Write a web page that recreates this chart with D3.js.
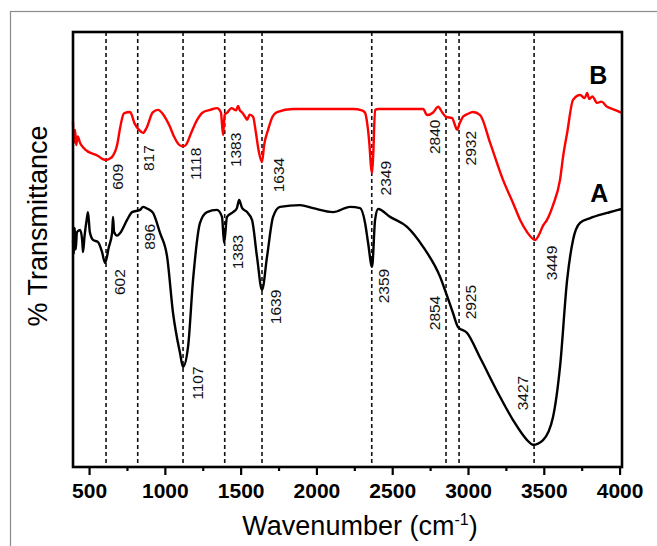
<!DOCTYPE html>
<html>
<head>
<meta charset="utf-8">
<script src="https://cdn.jsdelivr.net/npm/d3@7"></script>
<style>
  body { margin: 0; background: #fff; }
  text { font-family: "Liberation Sans", Arial, sans-serif; }
</style>
</head>
<body>
<svg id="ftir" width="657" height="546"></svg>
<script>

// ---- data (wavenumber cm-1, % transmittance, arbitrary offset) ----

var b_wave = [394, 400, 408, 415, 425, 441, 460, 493, 526, 559, 590, 612, 640, 652, 685, 705, 730, 771,
  800, 830, 856, 880, 920, 955, 990, 1030, 1060, 1090, 1110, 1130, 1147, 1170, 1213, 1250, 1300, 1344,
  1370, 1384, 1395, 1410, 1440, 1470, 1483, 1495, 1510, 1530, 1542, 1560, 1582, 1600, 1620, 1641, 1655,
  1681, 1710, 1740, 1846, 2000, 2150, 2242, 2300, 2320, 2335, 2350, 2360, 2367, 2375, 2387, 2410, 2600,
  2704, 2730, 2770, 2803, 2830, 2855, 2895, 2915, 2928, 2945, 2967, 3000, 3033, 3080, 3146, 3231, 3297,
  3344, 3390, 3443, 3470, 3495, 3521, 3561, 3607, 3630, 3654, 3693, 3740, 3770, 3786, 3800, 3820, 3852,
  3880, 3918, 3960, 4003, 4016];
var b_trans = [79.5, 74.5, 77.5, 74, 76, 74.5, 73.5, 72.5, 72, 71.5, 70.8, 70.6, 71, 71.3, 74, 78, 81.3, 81.6,
  79, 77.5, 76.8, 78, 81.5, 82.1, 81, 78.5, 76, 74.2, 73.8, 73.8, 74.5, 76.5, 79.8, 81.5, 82.1, 82.5,
  81.5, 76.3, 81, 81.4, 82.5, 82, 83, 82, 81.5, 80.5, 79.8, 81, 80.5, 77, 72.5, 70.1, 74,
  77.5, 80.5, 81.6, 82.3, 82.3, 82.3, 82.3, 82, 81.5, 79, 74, 69, 67.6, 72, 82.1, 82.3, 82.3,
  82.3, 80.9, 81.5, 82.8, 81.5, 80.5, 80.2, 78.5, 77.5, 79, 80.5, 81.2, 81.6, 80.9, 74.5, 66, 60.7,
  56.8, 54, 52.2, 53.5, 55.5, 56.8, 60.2, 66, 72, 76.8, 84.4, 85.5, 84.8, 86, 84.6, 85.2, 83.7,
  84, 82.8, 82.2, 81.6, 81.4];

var a_wave = [394, 400, 405, 412, 420, 441, 455, 460, 470, 485, 493, 505, 526, 559, 585, 606, 630, 652,
  658, 665, 685, 705, 751, 784, 836, 856, 889, 922, 968, 1015, 1054, 1100, 1120, 1153, 1186, 1232,
  1278, 1344, 1377, 1391, 1410, 1450, 1475, 1490, 1510, 1542, 1575, 1608, 1641, 1674, 1714, 1760, 1892,
  1978, 2110, 2222, 2288, 2321, 2341, 2367, 2387, 2407, 2486, 2598, 2704, 2816, 2855, 2901, 2934, 2994,
  3080, 3212, 3297, 3390, 3429, 3495, 3561, 3607, 3654, 3693, 3739, 3806, 3918, 3990, 4016];
var a_trans = [52, 49, 55, 50, 54, 54.5, 52, 49.4, 53, 57, 58.6, 54, 52.2, 51.7, 49.5, 46.9, 50.5, 53.8,
  57.5, 54, 53.2, 53.8, 56.8, 58.6, 59.1, 59.8, 59.3, 58.4, 53.8, 48.3, 35.4, 26.2, 23, 27.6, 43, 56.1,
  58.6, 59.1, 57.5, 51.5, 57.5, 58.6, 59.5, 61.4, 59.5, 58.6, 56.8, 48.3, 40.7, 48.3, 57.5, 59.8, 60.2,
  59.5, 58.6, 59.8, 59.5, 56.1, 51.5, 46, 56.8, 59.3, 57.5, 55.2, 50.6, 43.7, 40, 35.4, 32.2, 30.8,
  25.1, 16.1, 10.8, 6.2, 5.1, 6.2, 11.5, 23, 43, 52.2, 56.1, 57.2, 58.4, 59.1, 59.3];

// dashed marker lines
var peak_lines = [612, 821, 1120, 1395, 1641, 2365, 2855, 2941, 3436];

// peak labels (text, label centre in wavenumber / transmittance units)
var b_labels = ["609", "817", "1118", "1383", "1634", "2349", "2840", "2932", "3449"];
var b_label_w = [685, 889, 1199, 1463, 1747, 2453, 2776, 3014, 3548];
var b_label_v = [66.7, 71.0, 69.7, 72.9, 67.1, 66.4, 75.9, 73.3, 46.9];

var a_labels = ["602", "896", "1107", "1383", "1639", "2359", "2854", "2925", "3427"];
var a_label_w = [698, 896, 1213, 1476, 1727, 2440, 2776, 3014, 3357];
var a_label_v = [42.5, 52.9, 19.3, 49.4, 36.8, 41.6, 35.4, 37.9, 17.0];

var x_ticks = [500, 1000, 1500, 2000, 2500, 3000, 3500, 4000];
var x_minor = [750, 1250, 1750, 2250, 2750, 3250, 3750];


// define margins
var margin = {top: 32, right: 35, bottom: 79, left: 73};
var width = 657 - margin.left - margin.right;
var height = 546 - margin.top - margin.bottom;

var svg = d3.select("#ftir");

// thin grey border of the figure panel
svg.append("rect")
  .attr("x", 10.5).attr("y", 11.5)
  .attr("width", 700).attr("height", 600)
  .attr("fill", "none")
  .attr("stroke", "#8c8c8c")
  .attr("stroke-width", 1.2);

var g = svg.append("g")
  .attr("transform", "translate(" + margin.left + "," + margin.top + ")");

var x = d3.scaleLinear().domain([394, 4016]).range([0, width]);
var y = d3.scaleLinear().domain([0, 100]).range([height, 0]);

// dashed lines first so curves sit on top
g.selectAll(".peak")
  .data(peak_lines)
  .enter().append("line")
  .attr("class", "peak")
  .attr("x1", function(d) { return x(d); })
  .attr("x2", function(d) { return x(d); })
  .attr("y1", 0).attr("y2", height)
  .attr("stroke", "#111")
  .attr("stroke-width", 1.6)
  .attr("stroke-dasharray", "4,3");

var valueline = d3.line()
  .x(function(d) { return x(d[0]); })
  .y(function(d) { return y(d[1]); })
  .curve(d3.curveMonotoneX);

g.append("path")
  .datum(d3.zip(a_wave, a_trans))
  .attr("fill", "none")
  .attr("stroke", "#000")
  .attr("stroke-width", 2.4)
  .attr("stroke-linejoin", "round")
  .attr("d", valueline);

g.append("path")
  .datum(d3.zip(b_wave, b_trans))
  .attr("fill", "none")
  .attr("stroke", "#ff0000")
  .attr("stroke-width", 2.4)
  .attr("stroke-linejoin", "round")
  .attr("d", valueline);

// peak labels, rotated
function add_labels(txt, lw, lv) {
  g.selectAll(null)
    .data(txt)
    .enter().append("text")
    .attr("transform", function(d, i) {
      return "translate(" + x(lw[i]) + "," + y(lv[i]) + ") rotate(-90)";
    })
    .attr("text-anchor", "middle")
    .attr("dy", "0.36em")
    .attr("font-size", "15.5px")
    .attr("fill", "#111")
    .text(function(d) { return d; });
}
add_labels(b_labels, b_label_w, b_label_v);
add_labels(a_labels, a_label_w, a_label_v);

// series letters
g.append("text")
  .attr("x", x(3860)).attr("y", y(88))
  .attr("text-anchor", "middle")
  .attr("font-size", "25px").attr("font-weight", "bold")
  .text("B");
g.append("text")
  .attr("x", x(3866)).attr("y", y(61))
  .attr("text-anchor", "middle")
  .attr("font-size", "25px").attr("font-weight", "bold")
  .text("A");

// x axis (major + minor ticks)
var xAxis = d3.axisBottom(x).tickValues(x_ticks).tickSize(8).tickSizeOuter(0).tickPadding(8)
  .tickFormat(d3.format("d"));
var xg = g.append("g")
  .attr("class", "axis axis--x")
  .attr("transform", "translate(0," + height + ")")
  .call(xAxis);
xg.select(".domain").remove();
xg.selectAll("line").attr("stroke", "#000").attr("stroke-width", 2.2);
xg.selectAll("text")
  .attr("font-family", "'Liberation Sans', Arial, sans-serif")
  .attr("font-size", "21px").attr("font-weight", "bold").attr("fill", "#000");

var xMinor = d3.axisBottom(x).tickValues(x_minor).tickSize(4).tickSizeOuter(0).tickFormat("");
var xm = g.append("g")
  .attr("transform", "translate(0," + height + ")")
  .call(xMinor);
xm.select(".domain").remove();
xm.selectAll("line").attr("stroke", "#000").attr("stroke-width", 2.2);

// frame
g.append("rect")
  .attr("width", width).attr("height", height)
  .attr("fill", "none")
  .attr("stroke", "#000")
  .attr("stroke-width", 2.6);

// axis titles
var xt = svg.append("text")
  .attr("x", 360).attr("y", 535)
  .attr("text-anchor", "middle")
  .attr("font-size", "27px")
  .attr("fill", "#000");
xt.append("tspan").text("Wavenumber (cm");
xt.append("tspan").attr("font-size", "16px").attr("dy", "-10").text("-1");
xt.append("tspan").attr("dy", "10").text(")");

svg.append("text")
  .attr("transform", "translate(47,226) rotate(-90)")
  .attr("text-anchor", "middle")
  .attr("font-size", "27px")
  .attr("fill", "#000")
  .text("% Transmittance");

</script>
</body>
</html>
